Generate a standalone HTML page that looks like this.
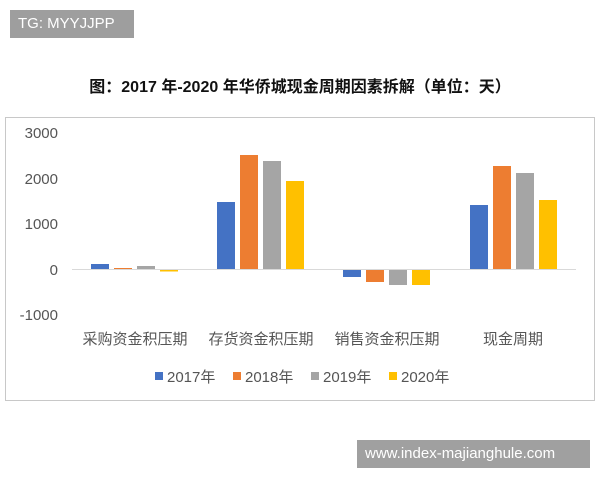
<!DOCTYPE html>
<html><head><meta charset="utf-8"><style>
body{margin:0;width:600px;height:480px;background:#fff;position:relative;overflow:hidden;font-family:"Liberation Sans","Noto Sans CJK SC",sans-serif}
.b{position:absolute;background:#9e9e9e;color:#fff;font-size:15px;line-height:28px;padding:0 8px}
</style></head><body>
<div class="b" style="left:10px;top:10px;width:108px">TG: MYYJJPP</div>
<div class="b" style="left:357px;top:440px;width:217px;background:#a0a0a0">www.index-majianghule.com</div>
<svg width="600" height="480" style="position:absolute;left:0;top:0" font-family="Liberation Sans, Noto Sans CJK SC, sans-serif">
<text x="300" y="92" text-anchor="middle" font-size="16" font-weight="bold" fill="#111">图：2017 年-2020 年华侨城现金周期因素拆解（单位：天）</text>
<rect x="5.5" y="117.5" width="589" height="283" fill="none" stroke="#c8c8c8"/>
<g font-size="15" fill="#555" text-anchor="end">
<text x="58" y="138">3000</text><text x="58" y="184">2000</text><text x="58" y="229">1000</text><text x="58" y="275">0</text><text x="58" y="320">-1000</text>
</g>
<line x1="72" y1="269.5" x2="576" y2="269.5" stroke="#d9d9d9"/>
<g>
<rect x="91" y="264" width="18" height="5" fill="#4472c4"/>
<rect x="114" y="268" width="18" height="1" fill="#ed7d31"/>
<rect x="137" y="266" width="18" height="3" fill="#a5a5a5"/>
<rect x="160" y="270" width="18" height="1.5" fill="#ffc000"/>
<rect x="217" y="202" width="18" height="67" fill="#4472c4"/>
<rect x="240" y="155" width="18" height="114" fill="#ed7d31"/>
<rect x="263" y="161" width="18" height="108" fill="#a5a5a5"/>
<rect x="286" y="181" width="18" height="88" fill="#ffc000"/>
<rect x="343" y="270" width="18" height="7" fill="#4472c4"/>
<rect x="366" y="270" width="18" height="12" fill="#ed7d31"/>
<rect x="389" y="270" width="18" height="15" fill="#a5a5a5"/>
<rect x="412" y="270" width="18" height="15" fill="#ffc000"/>
<rect x="470" y="205" width="18" height="64" fill="#4472c4"/>
<rect x="493" y="166" width="18" height="103" fill="#ed7d31"/>
<rect x="516" y="173" width="18" height="96" fill="#a5a5a5"/>
<rect x="539" y="200" width="18" height="69" fill="#ffc000"/>
</g>
<g font-size="15" fill="#555" text-anchor="middle">
<text x="135" y="344">采购资金积压期</text><text x="261" y="344">存货资金积压期</text><text x="387" y="344">销售资金积压期</text><text x="513" y="344">现金周期</text>
</g>
<g font-size="15" fill="#555">
<rect x="155" y="372" width="8" height="8" fill="#4472c4"/><text x="167" y="382">2017年</text>
<rect x="233" y="372" width="8" height="8" fill="#ed7d31"/><text x="245" y="382">2018年</text>
<rect x="311" y="372" width="8" height="8" fill="#a5a5a5"/><text x="323" y="382">2019年</text>
<rect x="389" y="372" width="8" height="8" fill="#ffc000"/><text x="401" y="382">2020年</text>
</g>
</svg>
</body></html>
